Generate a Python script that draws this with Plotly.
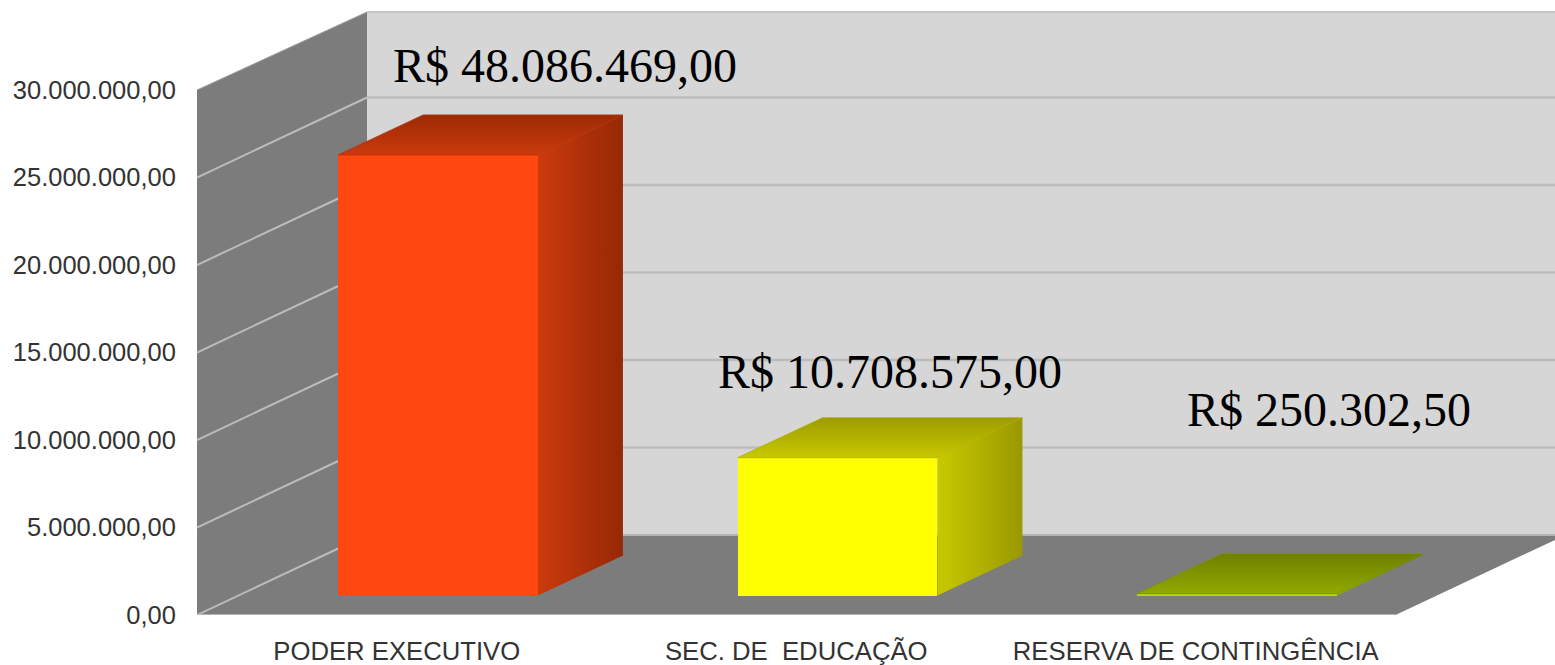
import plotly.graph_objects as go

categories = ["PODER EXECUTIVO", "SEC. DE  EDUCAÇÃO", "RESERVA DE CONTINGÊNCIA"]
values = [25180000, 7880000, 110000]
value_labels = ["R$ 48.086.469,00", "R$ 10.708.575,00", "R$ 250.302,50"]
y_ticks = [0, 5000000, 10000000, 15000000, 20000000, 25000000, 30000000]
y_tick_labels = ["0,00", "5.000.000,00", "10.000.000,00", "15.000.000,00",
                 "20.000.000,00", "25.000.000,00", "30.000.000,00"]
front_colors = ["#ff4810", "#ffff00", "#b4d800"]
side_colors = [("#cc3a0c", "#962805"), ("#c9c900", "#999900"), ("#90aa00", "#6e8000")]
side_edge = ["#b03008", "#b0b000", "#7e9400"]
top_colors = [("#9c2a05", "#cc3a0c"), ("#9c9c00", "#c8c800"), ("#6e8000", "#90aa00")]

W, H = 1555, 665
L, B = 197, 50
CAT_PX = 399.5
VAL_PX = 17.5 / 1e6
DX = 170 / CAT_PX       # depth projection, in x units
DY = 80 / VAL_PX        # depth projection, in y units
WALL_DY = 78 / VAL_PX
Y_TOP = 30000000
xmax = (W - L) / CAT_PX
ymax = (H - B) / VAL_PX
n = len(categories)
BAR_W = 0.5
D0, D1 = 0.243, 0.743   # bar's depth span


def line(x0, y0, x1, y1, color, width):
    return dict(type="line", layer="below", xref="x", yref="y", x0=x0, y0=y0, x1=x1, y1=y1,
                line=dict(color=color, width=width))


def poly(pts, fill):
    path = "M " + " L ".join(f"{x},{y}" for x, y in pts) + " Z"
    return dict(type="path", layer="below", xref="x", yref="y", path=path,
                fillcolor=fill, line=dict(width=0))


shapes = [
    poly([(DX, DY), (xmax + 1, DY), (xmax + 1, Y_TOP + WALL_DY), (DX, Y_TOP + WALL_DY)], "#d6d6d6"),
    poly([(0, 0), (DX, DY), (DX, Y_TOP + WALL_DY), (0, Y_TOP)], "#7c7c7c"),
    poly([(0, 0), (n, 0), (n + DX, DY), (DX, DY)], "#7c7c7c"),
    line(DX, Y_TOP + WALL_DY, xmax + 1, Y_TOP + WALL_DY, "#c4c4c4", 2),
    line(0, 0, n, 0, "#b4b4b4", 2),
    line(DX, DY, xmax + 1, DY, "#b4b4b4", 2),
    line(0, Y_TOP, DX, Y_TOP + WALL_DY, "#a0a0a0", 1),
]
for t in y_ticks[:-1]:
    if t > 0:
        shapes.append(line(DX, t + DY, xmax + 1, t + DY, "#bcbcbc", 2.5))
    shapes.append(line(0, t, DX, t + DY, "#bcbcbc", 2))

fig = go.Figure()
fx = [i + 0.5 + D0 * DX for i in range(n)]
base = D0 * DY
fig.add_trace(go.Bar(
    x=fx, y=values, base=[base] * n, width=BAR_W,
    marker=dict(color=front_colors, line=dict(width=0)),
    showlegend=False, hoverinfo="skip",
))
ddx = (D1 - D0) * DX
ddy = (D1 - D0) * DY
for i, v in enumerate(values):
    xl, xr = fx[i] - BAR_W / 2, fx[i] + BAR_W / 2
    yb, yt = base, base + v
    fig.add_trace(go.Scatter(
        x=[xl, xr, xr + ddx, xl + ddx, xl],
        y=[yt, yt, yt + ddy, yt + ddy, yt],
        mode="lines", line=dict(width=0.8, color=side_edge[i]), fill="toself",
        fillgradient=dict(type="vertical",
                          colorscale=[[0, top_colors[i][1]], [1, top_colors[i][0]]]),
        showlegend=False, hoverinfo="skip",
    ))
    fig.add_trace(go.Scatter(
        x=[xr, xr + ddx, xr + ddx, xr, xr],
        y=[yb, yb + ddy, yt + ddy, yt, yb],
        mode="lines", line=dict(width=0), fill="toself",
        fillgradient=dict(type="horizontal",
                          colorscale=[[0, side_colors[i][0]], [1, side_colors[i][1]]]),
        showlegend=False, hoverinfo="skip",
    ))

label_centers = [(565, 66), (890, 371), (1329, 409)]
annotations = [
    dict(text=t, xref="paper", yref="paper", showarrow=False,
         x=(cx - L) / (W - L), y=1 - cy / (H - B),
         xanchor="center", yanchor="middle",
         font=dict(family="Liberation Serif", size=48, color="#000000"))
    for t, (cx, cy) in zip(value_labels, label_centers)
]

fig.update_layout(
    width=W, height=H,
    margin=dict(l=L, r=0, t=0, b=B, pad=0, autoexpand=False),
    paper_bgcolor="white", plot_bgcolor="white",
    shapes=shapes, annotations=annotations, showlegend=False,
    font=dict(family="Liberation Sans", size=25, color="#333333"),
    bargap=0,
    xaxis=dict(range=[0, xmax], tickmode="array", tickvals=[i + 0.5 for i in range(n)],
               ticktext=categories, showgrid=False, zeroline=False, showline=False,
               ticks="outside", ticklen=13, tickcolor="rgba(0,0,0,0)",
               tickfont=dict(size=25.7), fixedrange=True, automargin=False),
    yaxis=dict(range=[0, ymax], tickmode="array", tickvals=y_ticks, ticktext=y_tick_labels,
               showgrid=False, zeroline=False, showline=False,
               ticks="outside", ticklen=15, tickcolor="rgba(0,0,0,0)",
               tickfont=dict(size=25.5), fixedrange=True, automargin=False),
)

fig.write_html("out.html", config=dict(displayModeBar=False),
               post_script="document.body.style.margin='0';")
